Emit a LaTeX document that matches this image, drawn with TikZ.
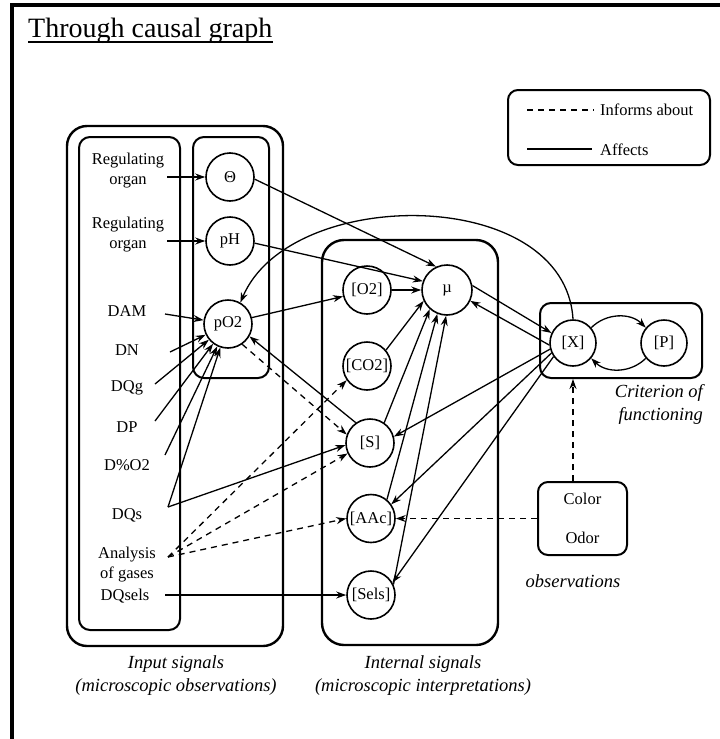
\documentclass[tikz,border=0pt]{standalone}
\usepackage{fontspec}
\setmainfont{Liberation Serif}
\usetikzlibrary{arrows.meta}
\newcommand\mylabfont{\fontsize{16.5}{20}\selectfont}
\newcommand\mycapfont{\fontsize{18.5}{23}\selectfont\itshape}
\begin{document}
\begin{tikzpicture}[x=1pt,y=-1pt,
  bigbox/.style={draw,line width=2.4pt,rounded corners=20pt},
  ibox/.style={draw,line width=2pt,rounded corners=11pt},
  cnode/.style={draw,circle,line width=1.6pt,minimum size=48pt,inner sep=0pt,font=\mylabfont},
  lbl/.style={font=\mylabfont,align=center,inner sep=0pt},
  captext/.style={font=\mycapfont,align=center,inner sep=0pt},
  aff/.style={line width=1.3pt,-{Stealth[length=10pt,width=7pt]}},
  inf/.style={aff,dash pattern=on 6pt off 5pt},
  plainline/.style={line width=1.3pt},
  dashplain/.style={line width=1.3pt,dash pattern=on 6pt off 5pt},
]
\useasboundingbox (0,0) rectangle (720,739);
\fill[white] (0,0) rectangle (720,739);
% frame
\draw[line width=4pt] (12,739) -- (12,5) -- (720,5);
% title
\node[anchor=base west,font=\fontsize{28}{32}\selectfont,inner sep=0pt] (title) at (28,37) {Through causal graph};
\draw[line width=1.3pt] ([yshift=-5pt]title.base west) -- ([yshift=-5pt]title.base east);

% containers
\draw[bigbox] (67,126) rectangle (283,646);
\draw[ibox] (79,137) rectangle (180,630);
\draw[ibox] (193,137) rectangle (269,378);
\draw[bigbox,rounded corners=22pt] (322,240) rectangle (498,645);
\node[ibox,minimum width=162pt,minimum height=75pt,inner sep=0pt] (crit) at (621,340.5) {};
\node[ibox,rounded corners=10pt,minimum width=89pt,minimum height=73pt,inner sep=0pt,align=center,font=\mylabfont] (obs) at (582.5,518.5) {Color\\[19pt]Odor};
\node[ibox,rounded corners=10pt,minimum width=202pt,minimum height=75pt,inner sep=0pt] (legend) at (609,127.5) {};

% legend contents
\coordinate (l1a) at (527,110);
\coordinate (l1b) at (594,110);
\coordinate (l2a) at (527,149);
\coordinate (l2b) at (592,149);
\draw[dashplain] (l1a) -- (l1b);
\draw[plainline] (l2a) -- (l2b);
\node[lbl,anchor=west] (linf) at (600,110) {Informs about};
\node[lbl,anchor=west] (laff) at (600,150) {Affects};

% circles
\node[cnode] (theta) at (230,177) {Θ};
\node[cnode] (pH) at (230,241) {pH};
\node[cnode] (pO2) at (228,324) {pO2};
\node[cnode] (o2) at (367,290) {[O2]};
\node[cnode,minimum size=50pt] (mu) at (447,290) {µ};
\node[cnode] (co2) at (367,366) {[CO2]};
\node[cnode] (s) at (370,443) {[S]};
\node[cnode] (aac) at (371,518.5) {[AAc]};
\node[cnode] (sels) at (371,595) {[Sels]};
\node[cnode,minimum size=46pt] (X) at (573,343) {[X]};
\node[cnode,minimum size=46pt] (P) at (664,343) {[P]};

% input labels
\node[lbl] (reg1) at (128,171) {Regulating\\organ};
\node[lbl] (reg2) at (128,235) {Regulating\\organ};
\node[lbl] (dam) at (127,311) {DAM};
\node[lbl] (dn) at (127,350) {DN};
\node[lbl] (dqg) at (127,388) {DQg};
\node[lbl] (dp) at (127,427) {DP};
\node[lbl] (dpo2) at (127,465) {D\%O2};
\node[lbl] (dqs) at (127,515) {DQs};
\node[lbl] (ana) at (127,565) {Analysis\\of gases};
\node[lbl] (dqsels) at (125,596) {DQsels};

% start points of connectors
\coordinate (reg1o) at (167,177);
\coordinate (reg2o) at (167,241);
\coordinate (damo) at (165,314);
\coordinate (dno) at (170,352);
\coordinate (dqgo) at (155,384);
\coordinate (dpo) at (155,421);
\coordinate (dpo2o) at (165,455);
\coordinate (dqso) at (168,507);
\coordinate (anao) at (168,557);
\coordinate (dqselso) at (165,595);

% captions
\node[captext] (capin) at (176,676) {Input signals\\(microscopic observations)};
\node[captext] (capint) at (423,676) {Internal signals\\(microscopic interpretations)};
\node[captext,anchor=north east,align=right] (capcrit) at (703,384) {Criterion of\\functioning};
\node[captext] (capobs) at (573,581) {observations};

% input arrows
\draw[aff] (reg1o) -- (theta);
\draw[aff] (reg2o) -- (pH);
\draw[aff] (damo) -- (pO2);
\draw[aff] (dno) -- (pO2);
\draw[aff] (dqgo) -- (pO2);
\draw[aff] (dpo) -- (pO2);
\draw[aff] (dpo2o) -- (pO2);
\draw[aff] (dqso) -- (pO2);
\draw[aff] (dqso) -- (s.185);
\draw[inf] (anao) -- (co2.215);
\draw[inf] (anao) -- (s.205);
\draw[inf] (anao) -- (aac.west);
\draw[aff] (dqselso) -- (sels.west);

% pO2 relations
\draw[aff] (pO2.15) -- (o2.195);
\draw[aff] (s.125) -- (pO2.-30);
\draw[inf] (pO2.-55) -- (s.160);

% into mu
\draw[aff] (theta.-5) -- (mu.115);
\draw[aff] (pH.-5) -- (mu.160);
\draw[aff] (o2) -- (mu);
\draw[aff] (co2.40) -- (mu.205);
\draw[aff] (s.55) -- (mu.228);
\draw[aff] (aac.50) -- (mu.248);
\draw[aff] (sels.25) -- (mu.268);

% X relations
\draw[aff] (mu.10) -- (X.155);
\draw[aff] (X.185) -- (mu.-25);
\draw[aff] (X.195) -- (s.15);
\draw[aff] (X.205) -- (aac.35);
\draw[aff] (X.215) -- (sels.30);
\draw[aff] (X.40) to[bend left=45] (P.140);
\draw[aff] (P.-140) to[bend left=45] (X.-40);
\draw[aff] (X.north) .. controls (565,185) and (290,185) .. (pO2.60);

% observations
\draw[inf] (obs.north -| X) -- (crit.south -| X);
\draw[inf] (obs.west) -- (aac.east);
\end{tikzpicture}
\end{document}
